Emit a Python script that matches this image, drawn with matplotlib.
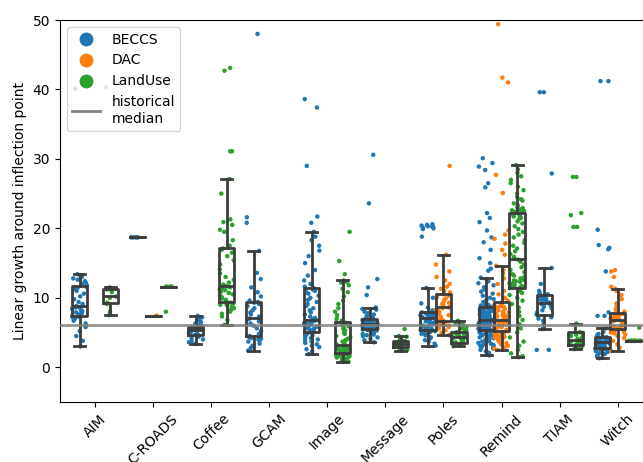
import numpy as np
import pandas as pd
import matplotlib
matplotlib.use("Agg")
import matplotlib.pyplot as plt
import seaborn as sns
from matplotlib.lines import Line2D

models = ["AIM", "C-ROADS", "Coffee", "GCAM", "Image", "Message", "Poles", "Remind", "TIAM", "Witch"]
techs = ["BECCS", "DAC", "LandUse"]
colors = ["#1f77b4", "#ff7f0e", "#2ca02c"]
hist_median = 6.1

# values, one list per model / technology
aim_beccs = [3.0, 3.8, 4.5, 5.2, 5.8, 6.3, 6.7, 7.0, 7.2, 7.3,
             7.4, 7.6, 7.8, 7.9, 8.1, 8.2, 8.4, 8.5, 8.6, 8.7,
             8.8, 9.1, 9.4, 9.8, 10.2, 10.6, 11.0, 11.3, 11.5, 11.6,
             11.8, 12.0, 12.2, 12.4, 12.6, 12.8, 13.0, 13.2, 13.4, 40.1]
aim_landuse = [7.5, 8.0, 9.1, 9.3, 10.0, 10.2, 10.8, 11.2, 11.4, 11.5, 40.3]

croads_beccs = [18.7, 18.7, 18.7, 18.7, 18.7]
croads_dac = [7.4, 7.4, 7.4]
croads_landuse = [11.6, 11.6, 11.6, 11.6, 11.6, 8.0]

coffee_beccs = [3.35, 3.6, 3.8, 4.0, 4.2, 4.4, 4.5, 4.6,
                4.7, 4.8, 4.9, 5.0, 5.1, 5.2, 5.25, 5.3,
                5.35, 5.4, 5.45, 5.5, 5.6, 5.7, 5.75, 5.85,
                5.9, 6.1, 6.3, 6.5, 6.8, 7.0, 7.2, 7.4]
coffee_landuse = [6.1, 6.8, 7.3, 7.7, 8.0, 8.3, 8.5, 8.7, 8.9, 9.0, 9.1, 9.2, 9.3,
                  9.5, 9.7, 9.9, 10.1, 10.3, 10.5, 10.7, 10.9, 11.1, 11.2, 11.4, 11.5, 11.6,
                  11.7, 11.9, 12.2, 12.6, 13.0, 13.5, 14.1, 14.8, 15.4, 16.0, 16.5, 16.9, 17.1,
                  17.5, 18.3, 19.5, 19.8, 20.5, 20.9, 21.3, 25.0, 27.1, 31.1, 31.1, 42.7, 43.1]

gcam_beccs = [2.4, 2.8, 3.1, 3.4, 3.7, 3.9, 4.0, 4.1, 4.2, 4.3,
              4.5, 4.8, 5.2, 5.6, 6.0, 6.3, 6.6, 6.8, 6.9, 7.0,
              7.1, 7.3, 7.6, 7.9, 8.2, 8.5, 8.8, 9.1, 9.3, 9.4,
              9.6, 10.2, 10.8, 11.5, 12.7, 13.6, 16.75, 20.8, 21.6, 48.0]

image_beccs = [1.9, 2.3, 2.6, 2.9, 3.1, 3.3, 3.5, 3.7, 3.9, 4.0, 4.2, 4.3, 4.5, 4.6, 4.7, 4.8, 5.0, 5.1,
               5.2, 5.3, 5.4, 5.5, 5.6, 5.7, 5.8, 5.9, 6.0, 6.1, 6.2, 6.3, 6.4, 6.5, 6.6, 6.7, 6.8,
               6.9, 7.1, 7.3, 7.6, 7.9, 8.2, 8.5, 8.8, 9.1, 9.4, 9.7, 10.0, 10.3, 10.6, 10.8, 11.0, 11.2,
               11.4, 11.6, 12.0, 12.5, 13.2, 14.0, 15.0, 16.0, 16.8, 17.5, 18.3, 18.8, 19.5, 20.8, 21.7,
               29.0, 37.4, 38.6]
image_landuse = [0.8, 0.9, 1.0, 1.1, 1.2, 1.3, 1.4, 1.5, 1.5, 1.6, 1.6, 1.7, 1.7, 1.8, 1.8, 1.9, 1.9, 2.0,
                 2.1, 2.1, 2.2, 2.3, 2.3, 2.4, 2.5, 2.5, 2.6, 2.7, 2.7, 2.8, 2.9, 2.9, 3.0, 3.0, 3.1,
                 3.2, 3.3, 3.5, 3.7, 3.9, 4.1, 4.3, 4.5, 4.8, 5.0, 5.3, 5.5, 5.7, 5.9, 6.1, 6.3, 6.4,
                 6.5, 6.7, 7.0, 7.5, 8.0, 8.5, 9.1, 9.6, 10.2, 10.8, 11.3, 11.8, 12.2, 12.3, 12.5,
                 13.4, 15.3, 19.5]

message_beccs = [3.6, 3.9, 4.1, 4.3, 4.5, 4.6, 4.7, 4.8, 4.9, 5.0, 5.1, 5.2, 5.3, 5.35, 5.4,
                 5.45, 5.5, 5.55, 5.6, 5.65, 5.7, 5.75, 5.8, 5.85, 5.9, 5.95, 6.0, 6.05, 6.1, 6.2,
                 6.25, 6.3, 6.35, 6.4, 6.45, 6.5, 6.55, 6.6, 6.65, 6.7, 6.75, 6.8, 6.85, 6.9, 6.9,
                 7.0, 7.1, 7.2, 7.4, 7.6, 7.8, 8.0, 8.3, 8.4, 8.6, 10.4, 11.5, 12.7, 23.6, 30.6]
message_landuse = [2.4, 2.5, 2.6, 2.8, 2.9, 3.0, 3.1, 3.2, 3.3, 3.35,
                   3.4, 3.5, 3.6, 3.7, 3.8, 3.9, 4.2, 4.4, 4.5, 5.5]

poles_beccs = [3.1, 3.4, 3.7, 3.9, 4.1, 4.3, 4.5, 4.6, 4.7, 4.8, 4.9, 5.0, 5.1, 5.2, 5.3,
               5.4, 5.5, 5.6, 5.8, 5.9, 6.0, 6.2, 6.3, 6.4, 6.5, 6.6, 6.7, 6.8, 6.9, 7.0,
               7.1, 7.15, 7.2, 7.25, 7.3, 7.35, 7.4, 7.45, 7.5, 7.55, 7.6, 7.7, 7.75, 7.8, 7.9,
               8.2, 8.6, 9.2, 10.0, 11.4, 18.8, 19.9, 20.0, 20.1, 20.2, 20.3, 20.4, 20.5, 20.6, 20.3]
poles_dac = [4.65, 5.0, 5.3, 5.6, 5.8, 6.0, 6.1, 6.2, 6.3, 6.4, 6.5,
             6.7, 6.9, 7.1, 7.3, 7.5, 7.7, 7.9, 8.1, 8.3, 8.5, 8.6,
             8.7, 8.9, 9.1, 9.3, 9.5, 9.7, 9.9, 10.1, 10.3, 10.4, 10.55,
             10.8, 11.0, 11.3, 11.6, 12.0, 12.5, 13.0, 13.8, 14.8, 16.2, 29.0]
poles_landuse = [3.05, 3.2, 3.3, 3.35, 3.4, 3.45, 3.5, 3.55,
                 3.6, 3.7, 3.8, 3.9, 4.0, 4.1, 4.25,
                 4.35, 4.45, 4.55, 4.65, 4.75, 4.85, 4.95,
                 5.05, 5.2, 5.4, 5.6, 5.85, 6.1, 6.4, 6.7]

remind_beccs = [1.7, 1.9, 2.1, 2.3, 2.5, 2.7, 2.9, 3.0, 3.1, 3.2,
                3.3, 3.4, 3.5, 3.6, 3.7, 3.8, 3.9, 4.0, 4.1, 4.2,
                4.3, 4.4, 4.5, 4.55, 4.6, 4.65, 4.7, 4.8, 4.85, 4.9,
                5.0, 5.05, 5.1, 5.2, 5.3,
                5.35, 5.4, 5.45, 5.5, 5.55, 5.6, 5.65, 5.7, 5.75, 5.8,
                5.85, 5.9, 5.95, 6.0, 6.05, 6.1, 6.15, 6.2, 6.25, 6.3,
                6.35, 6.4, 6.45, 6.5, 6.55, 6.6, 6.62, 6.65, 6.68, 6.7,
                6.72, 6.74, 6.76, 6.78, 6.8,
                6.85, 6.9, 6.95, 7.0, 7.05, 7.1, 7.15, 7.2, 7.25, 7.3,
                7.35, 7.4, 7.45, 7.5, 7.55, 7.6, 7.65, 7.7, 7.75, 7.8,
                7.85, 7.9, 7.95, 8.0, 8.05, 8.1, 8.15, 8.2, 8.25, 8.3,
                8.35, 8.4, 8.45, 8.5, 8.6,
                8.7, 8.8, 8.9, 9.0, 9.2, 9.4, 9.6, 9.8, 10.0, 10.3,
                10.6, 10.9, 11.2, 11.5, 11.8, 12.1, 12.4, 12.7, 12.9, 13.9,
                14.2, 15.0, 15.7, 16.9, 18.0, 18.7, 19.7, 20.9, 21.5, 22.2,
                25.9, 26.5, 28.4, 28.9, 29.4, 30.1]
remind_dac = [2.5, 2.7, 2.9, 3.1, 3.3, 3.5, 3.7, 3.8, 3.9, 4.0,
              4.1, 4.2, 4.3, 4.4, 4.5, 4.6, 4.7, 4.8, 4.9, 5.1,
              5.2, 5.3, 5.4, 5.5, 5.6, 5.7, 5.8, 5.9, 6.0, 6.1,
              6.2, 6.3, 6.4, 6.5, 6.55, 6.6, 6.65, 6.7, 6.75, 6.8,
              6.9, 7.0, 7.1, 7.2, 7.3, 7.4, 7.5, 7.6, 7.7, 7.8,
              7.9, 8.0, 8.2, 8.4, 8.6, 8.7, 8.8, 9.0, 9.1, 9.3,
              9.6, 10.0, 10.5, 11.0, 12.0, 12.8, 13.5, 14.0, 14.6,
              16.2, 16.9, 17.8, 18.5, 19.1, 19.7, 25.1, 27.7, 41.0, 41.7, 49.4]
remind_landuse = [1.45, 1.6, 2.0, 2.5, 3.1, 3.7, 4.3, 5.0, 5.6, 6.2,
                  6.8, 7.4, 8.0, 8.6, 9.1, 9.6, 10.0, 10.4, 10.7, 11.0, 11.2, 11.4,
                  11.5, 11.6, 11.7, 11.8, 11.9, 12.0, 12.1, 12.2, 12.3, 12.4,
                  12.5, 12.6, 12.8, 13.0, 13.2, 13.4, 13.7, 14.0, 14.4, 14.8, 15.2, 15.5,
                  15.6, 15.9, 16.3, 16.7, 17.1, 17.5, 17.9, 18.3, 18.7, 19.1,
                  19.5, 19.9, 20.3, 20.7, 21.0, 21.3, 21.5, 21.7, 21.8, 21.9, 22.0, 22.2,
                  22.3, 22.4, 22.5, 22.6, 22.7, 22.8, 22.9, 23.0, 23.3, 23.6, 24.0, 24.2,
                  24.5, 25.0, 25.5, 26.0, 26.5, 27.0, 27.5, 28.0, 28.5, 29.1]

tiam_beccs = [2.5, 2.5, 5.5, 6.2, 6.7, 7.0, 7.2, 7.35,
              7.6, 7.9, 8.2, 8.5, 8.7, 8.9, 9.1, 9.2,
              9.3, 9.5, 9.7, 9.8, 9.9, 10.1, 10.2, 10.4,
              10.5, 10.7, 11.0, 12.0, 14.3, 27.9, 39.6, 39.6]
tiam_landuse = [2.6, 2.7, 2.8, 2.9, 3.0, 3.05, 3.1, 3.2,
                3.3, 3.4, 3.5, 3.6, 3.7, 3.8, 3.85,
                3.95, 4.1, 4.3, 4.5, 4.7, 4.85, 4.95,
                5.05, 6.3, 20.2, 20.2, 21.9, 22.2, 27.4, 27.4]

witch_beccs = [1.3, 1.5, 1.7, 1.9, 2.0, 2.1, 2.2, 2.3, 2.4, 2.45, 2.5, 2.55, 2.6, 2.7,
               2.75, 2.8, 2.9, 3.0, 3.05, 3.1, 3.2, 3.25, 3.3, 3.35, 3.4, 3.45, 3.5, 3.6,
               3.65, 3.7, 3.75, 3.8, 3.85, 3.9, 3.95, 4.0, 4.05, 4.1, 4.15, 4.2, 4.25, 4.3,
               4.4, 4.6, 4.8, 5.1, 5.6, 7.4, 7.4, 7.9, 13.8, 17.0, 17.2, 17.6, 19.8, 41.2, 41.2]
witch_dac = [2.35, 2.8, 3.3, 3.8, 4.2, 4.5, 4.7, 4.9, 5.0, 5.1, 5.2, 5.4,
             5.5, 5.6, 5.7, 5.8, 5.9, 6.0, 6.1, 6.2, 6.3, 6.5, 6.6, 6.8,
             6.85, 6.9, 7.0, 7.05, 7.1, 7.2, 7.3, 7.4, 7.5, 7.6, 7.7, 7.8,
             8.0, 8.3, 8.7, 9.2, 9.8, 10.4, 11.0, 11.3, 11.6, 13.0, 13.8, 14.0]
witch_landuse = [3.8] * 15 + [5.7]

groups = [
    ("AIM", "BECCS", aim_beccs), ("AIM", "LandUse", aim_landuse),
    ("C-ROADS", "BECCS", croads_beccs), ("C-ROADS", "DAC", croads_dac), ("C-ROADS", "LandUse", croads_landuse),
    ("Coffee", "BECCS", coffee_beccs), ("Coffee", "LandUse", coffee_landuse),
    ("GCAM", "BECCS", gcam_beccs),
    ("Image", "BECCS", image_beccs), ("Image", "LandUse", image_landuse),
    ("Message", "BECCS", message_beccs), ("Message", "LandUse", message_landuse),
    ("Poles", "BECCS", poles_beccs), ("Poles", "DAC", poles_dac), ("Poles", "LandUse", poles_landuse),
    ("Remind", "BECCS", remind_beccs), ("Remind", "DAC", remind_dac), ("Remind", "LandUse", remind_landuse),
    ("TIAM", "BECCS", tiam_beccs), ("TIAM", "LandUse", tiam_landuse),
    ("Witch", "BECCS", witch_beccs), ("Witch", "DAC", witch_dac), ("Witch", "LandUse", witch_landuse),
]

rows = []
for model, tech, vals in groups:
    for v in vals:
        rows.append((model, tech, v))
df = pd.DataFrame(rows, columns=["model", "tech", "value"])

np.random.seed(3)
fig = plt.figure(figsize=(6.43, 4.62), dpi=100)
ax = fig.add_axes([0.0933, 0.1299, 0.9218, 0.8268])

sns.stripplot(data=df, x="model", y="value", hue="tech", order=models, hue_order=techs,
              palette=colors, dodge=True, jitter=0.4, size=3.2, linewidth=0,
              legend=False, zorder=1, ax=ax)

# boxes on top of the points, no fill
box_col = "#3d3d3d"
step = 0.8 / 3
for model, tech, vals in groups:
    pos = models.index(model) + (techs.index(tech) - 1) * step
    ax.boxplot(vals, positions=[pos], widths=0.26, showfliers=False, manage_ticks=False,
               capwidths=0.19, zorder=3,
               boxprops=dict(color=box_col, linewidth=2),
               whiskerprops=dict(color=box_col, linewidth=2),
               capprops=dict(color=box_col, linewidth=2),
               medianprops=dict(color=box_col, linewidth=2))

ax.axhline(hist_median, color="grey", linewidth=2, alpha=0.85, zorder=4)

ax.set_xlim(-0.603, 9.603)
ax.set_ylim(-5, 50)
ax.set_xticks(range(len(models)))
ax.set_xticklabels(models, rotation=45)
ax.set_yticks([0, 10, 20, 30, 40, 50])
ax.set_xlabel("")
ax.set_ylabel("Linear growth around inflection point")

handles = [Line2D([], [], marker="o", ls="", color=c, markersize=9) for c in colors]
handles.append(Line2D([], [], color="grey", linewidth=2))
ax.legend(handles, techs + ["historical\nmedian"], loc="upper left")

fig.savefig("out.png", dpi=100)
